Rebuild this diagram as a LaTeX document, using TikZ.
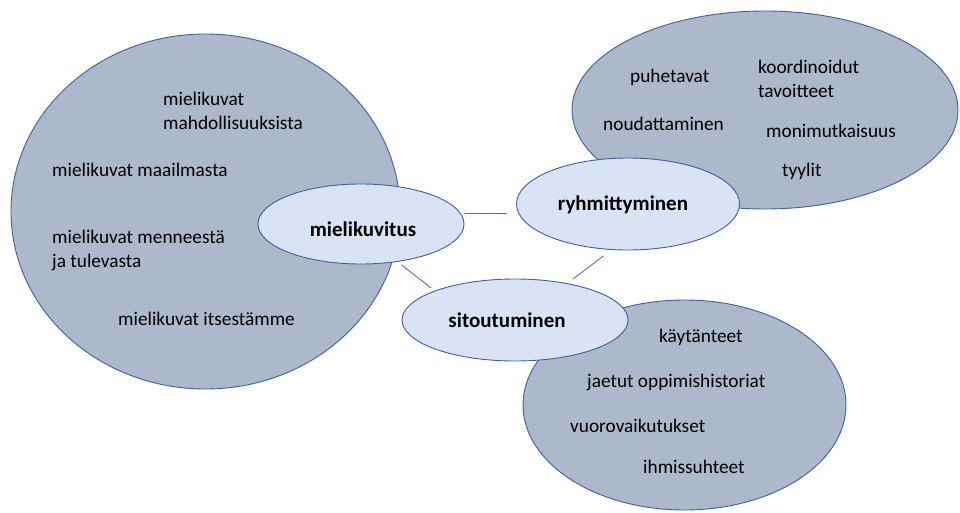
\documentclass[tikz,border=0pt]{standalone}
\usepackage{fontspec}
\setmainfont{Carlito}
\usetikzlibrary{shapes.geometric}
\definecolor{bigfill}{RGB}{173,185,202}
\definecolor{smallfill}{RGB}{218,227,243}
\definecolor{rim}{RGB}{60,95,165}
\definecolor{conline}{RGB}{72,114,196}
\tikzset{
  bigoval/.style={ellipse, draw=rim, fill=bigfill, line width=0.9pt, inner sep=0pt},
  theme/.style={ellipse, draw=rim, fill=smallfill, line width=0.9pt, inner sep=0pt},
  themelabel/.style={inner sep=0pt, font=\fontsize{21}{25}\selectfont\bfseries},
  item/.style={inner sep=0pt, align=left, font=\fontsize{19.3}{24}\selectfont},
  conn/.style={draw=conline, line width=0.9pt}
}
\begin{document}
\begin{tikzpicture}[x=1pt, y=-1pt, line cap=round, line join=round]
				\useasboundingbox (0,0) rectangle (960,513);
				% big ovals
				\node[bigoval, minimum width=389pt, minimum height=355pt] (leftoval) at (205.5,211.5) {};
				\node[bigoval, minimum width=386pt, minimum height=198pt] (topoval) at (765,110) {};
				\node[bigoval, minimum width=323pt, minimum height=210pt] (botoval) at (684.5,405) {};
				% themes
				\node[theme, minimum width=206pt, minimum height=80pt] (miel) at (361,224) {};
				\node[themelabel] (miellab) at (363,229) {mielikuvitus};
				\node[theme, minimum width=223pt, minimum height=92pt] (ryhm) at (628,204) {};
				\node[themelabel] (ryhmlab) at (623,205) {ryhmittyminen};
				\node[theme, minimum width=226pt, minimum height=82pt] (sito) at (515,320) {};
				\node[themelabel] (sitolab) at (507,320) {sitoutuminen};
				\draw[conn, shorten <=4pt, shorten >=12pt] (miel.6) -- (ryhm.185);
				\draw[conn, shorten <=5pt, shorten >=5pt] (miel.-46) -- (sito.160);
				\draw[conn, shorten <=10pt, shorten >=7pt] (ryhm.-110) -- (sito.35);
				% items
				\node[item, anchor=west] (m1) at (163,111) {mielikuvat\\mahdollisuuksista};
				\node[item, anchor=base west] (m2) at (52,176.5) {mielikuvat maailmasta};
				\node[item, anchor=west] (m3) at (52,250.5) {mielikuvat menneestä\\ja tulevasta};
				\node[item, anchor=base west] (m4) at (118,325.5) {mielikuvat itsestämme};
				\node[item, anchor=base west] (r1) at (630,82.5) {puhetavat};
				\node[item, anchor=west] (r2) at (758,79) {koordinoidut\\tavoitteet};
				\node[item, anchor=base west] (r3) at (603,130.5) {noudattaminen};
				\node[item, anchor=base west] (r4) at (766,137.5) {monimutkaisuus};
				\node[item, anchor=base west] (r5) at (782,176.5) {tyylit};
				\node[item, anchor=base west] (s1) at (659,342.5) {käytänteet};
				\node[item, anchor=base west] (s2) at (587,387.5) {jaetut oppimishistoriat};
				\node[item, anchor=base west] (s3) at (570,432.5) {vuorovaikutukset};
				\node[item, anchor=base west] (s4) at (643,473.5) {ihmissuhteet};
			\end{tikzpicture}
\end{document}
